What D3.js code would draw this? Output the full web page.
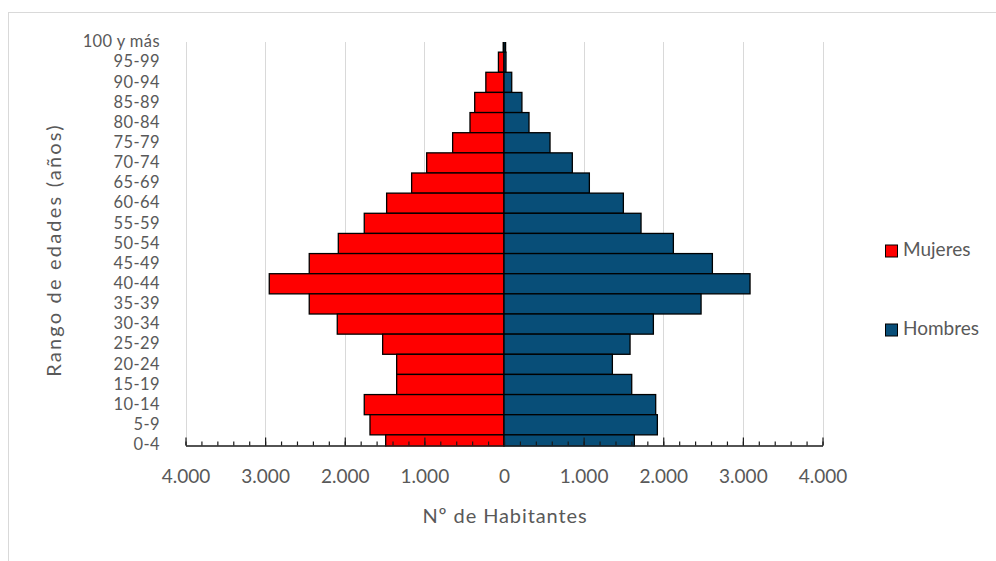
<!DOCTYPE html>
<html>
<head>
<meta charset="utf-8">
<script src="https://cdn.jsdelivr.net/npm/d3@7"></script>
<style>
  html, body { margin: 0; padding: 0; background: #fff; }
  svg { display: block; font-family: Lato, "Open Sans", sans-serif; }
</style>
</head>
<body>
<svg id="chart" width="996" height="561"></svg>
<script>
// Age groups, oldest first (top of the pyramid)
const ageGroups = ["100 y más", "95-99", "90-94", "85-89", "80-84", "75-79", "70-74",
  "65-69", "60-64", "55-59", "50-54", "45-49", "40-44", "35-39", "30-34",
  "25-29", "20-24", "15-19", "10-14", "5-9", "0-4"];

// Inhabitants per age group
const mujeres = [10, 70, 228, 368, 427, 645, 971, 1160, 1474, 1755, 2081,
  2446, 2948, 2446, 2094, 1524, 1348, 1348, 1755, 1683, 1486];
const hombres = [20, 25, 97, 225, 314, 578, 858, 1072, 1499, 1721, 2127,
  2617, 3090, 2475, 1876, 1583, 1361, 1604, 1905, 1926, 1637];

const seriesNames = ["Mujeres", "Hombres"];
const seriesColors = ["#FF0000", "#084E78"];
const majorTicks = [-4000, -3000, -2000, -1000, 0, 1000, 2000, 3000, 4000];
const minorTicks = d3.range(-4000, 4001, 200);
const xTitle = "Nº de Habitantes";
const yTitle = "Rango de edades (años)";

const svg = d3.select("#chart");
const textColor = "#595959";
const fontSize = 19;

// Chart frame
svg.append("rect")
  .attr("x", 8.5).attr("y", 12.5)
  .attr("width", 992).attr("height", 560)
  .attr("fill", "#fff").attr("stroke", "#d9d9d9");

const plotTop = 42, axisY = 445.5;

const x = d3.scaleLinear().domain([-4000, 4000]).range([185.5, 822.5]);
const y = d3.scaleBand().domain(ageGroups).range([32, 455]).padding(0);

const esLocale = d3.formatLocale({ decimal: ",", thousands: ".", grouping: [3], currency: ["", " €"] });
const fmt = esLocale.format(",");

// Vertical gridlines
svg.append("g").selectAll("line")
  .data(majorTicks.filter(d => d !== 0))
  .join("line")
  .attr("x1", d => Math.round(x(d)) + 0.5).attr("x2", d => Math.round(x(d)) + 0.5)
  .attr("y1", plotTop).attr("y2", axisY)
  .attr("stroke", "#d9d9d9").attr("stroke-width", 1);

// Bars clipped to the plot area
svg.append("clipPath").attr("id", "plotClip")
  .append("rect").attr("x", 0).attr("y", plotTop)
  .attr("width", 996).attr("height", axisY - plotTop + 1);

const bars = svg.append("g").attr("clip-path", "url(#plotClip)");

const rows = ageGroups.map((g, i) => ({ g, m: mujeres[i], h: hombres[i] }));

bars.selectAll("rect.muj")
  .data(rows).join("rect")
  .attr("class", "muj")
  .attr("x", d => x(-d.m)).attr("width", d => x(0) - x(-d.m))
  .attr("y", d => y(d.g)).attr("height", y.bandwidth())
  .attr("fill", seriesColors[0]).attr("stroke", "#000").attr("stroke-width", 1.3);

bars.selectAll("rect.hom")
  .data(rows).join("rect")
  .attr("class", "hom")
  .attr("x", x(0)).attr("width", d => x(d.h) - x(0))
  .attr("y", d => y(d.g)).attr("height", y.bandwidth())
  .attr("fill", seriesColors[1]).attr("stroke", "#000").attr("stroke-width", 1.3);

// Horizontal axis: minor ticks, then major ticks with labels
svg.append("g")
  .attr("transform", `translate(0,${axisY})`)
  .call(d3.axisBottom(x).tickValues(minorTicks).tickSizeInner(-4).tickSizeOuter(0).tickFormat(""))
  .call(g => g.select(".domain").remove())
  .call(g => g.selectAll("line").attr("stroke", "#1a1a1a").attr("stroke-width", 1.2));

const xAxis = svg.append("g")
  .attr("transform", `translate(0,${axisY})`)
  .call(d3.axisBottom(x).tickValues(majorTicks).tickSizeInner(-8).tickSizeOuter(0)
    .tickPadding(24).tickFormat(d => fmt(Math.abs(d))));
xAxis.select(".domain").attr("stroke", "#1a1a1a").attr("stroke-width", 1.5);
xAxis.selectAll("line").attr("stroke", "#1a1a1a").attr("stroke-width", 1.2);
xAxis.selectAll("text")
  .attr("fill", textColor).attr("font-size", fontSize).attr("font-family", "Lato, sans-serif");

// Vertical axis labels (sized to fit one per band)
const yAxis = svg.append("g")
  .attr("transform", "translate(166,0)")
  .call(d3.axisLeft(y).tickSize(0).tickPadding(6));
yAxis.select(".domain").remove();
yAxis.selectAll("text")
  .attr("fill", textColor).attr("font-size", 16.5).attr("font-family", "Lato, sans-serif")
  .attr("letter-spacing", 0.4);

// Axis titles
svg.append("text")
  .attr("x", 505).attr("y", 518)
  .attr("text-anchor", "middle").attr("dominant-baseline", "middle")
  .attr("fill", textColor).attr("font-size", 20).attr("letter-spacing", 0.9)
  .text(xTitle);

svg.append("text")
  .attr("transform", "translate(56,250) rotate(-90)")
  .attr("text-anchor", "middle").attr("dominant-baseline", "middle")
  .attr("fill", textColor).attr("font-size", 20).attr("letter-spacing", 2.2)
  .text(yTitle);

// Legend
const legend = svg.append("g").selectAll("g")
  .data(seriesNames).join("g")
  .attr("transform", (d, i) => `translate(885,${[251, 330][i]})`);
legend.append("rect")
  .attr("x", 0.5).attr("y", -6).attr("width", 12).attr("height", 12)
  .attr("fill", (d, i) => seriesColors[i]).attr("stroke", "#000").attr("stroke-width", 1);
legend.append("text")
  .attr("x", 18).attr("y", 0).attr("dominant-baseline", "middle")
  .attr("fill", textColor).attr("font-size", fontSize)
  .text(d => d);
</script>
</body>
</html>
